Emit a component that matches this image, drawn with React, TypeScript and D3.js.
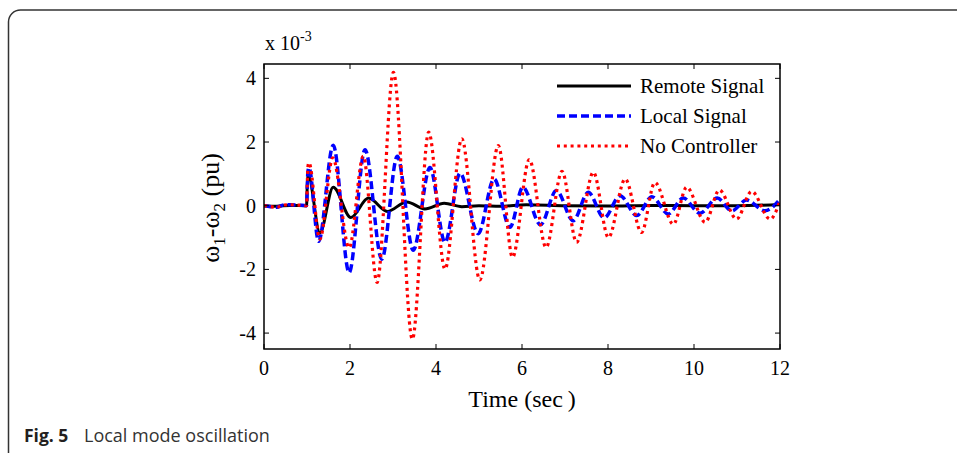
import React from "react";
import * as d3 from "d3";

const xTicks = [0, 2, 4, 6, 8, 10, 12];
const yTicks = [-4, -2, 0, 2, 4];

const remoteT = [0, 0.3, 0.6, 0.99, 1.005, 1.03, 1.3, 1.61, 2.02, 2.43, 2.87, 3.32, 3.74, 4.19, 4.6, 5.0, 5.5, 6.1, 7, 8, 9, 10, 11, 12];
const remoteV = [0, -0.02, 0.01, 0, 0.6, 0.95, -0.85, 0.58, -0.37, 0.24, -0.18, 0.12, -0.1, 0.08, -0.03, 0.0, -0.02, 0.03, 0.0, -0.01, 0.01, 0.0, 0.0, 0.04];

const localT = [0, 0.15, 0.3, 0.45, 0.6, 0.8, 0.99, 1.005, 1.02, 1.045, 1.27, 1.61, 1.98, 2.35, 2.74, 3.1, 3.47, 3.86, 4.21, 4.56, 4.98, 5.35, 5.72, 6.02, 6.43, 6.8, 7.19, 7.54, 7.91, 8.28, 8.67, 9.02, 9.4, 9.75, 10.14, 10.54, 10.88, 11.22, 11.65, 12];
const localV = [0, -0.03, -0.05, 0.02, 0.03, 0.02, 0, 0.5, 1.05, 1.2, -1.12, 1.9, -2.1, 1.76, -1.68, 1.55, -1.4, 1.2, -1.15, 1.02, -0.88, 0.84, -0.68, 0.58, -0.6, 0.48, -0.47, 0.42, -0.38, 0.31, -0.31, 0.28, -0.26, 0.24, -0.24, 0.24, -0.16, 0.18, -0.16, 0.2];

const noCtrlT = [0, 0.15, 0.3, 0.45, 0.6, 0.8, 0.99, 1.005, 1.02, 1.045, 1.3, 1.6, 1.98, 2.31, 2.63, 3.01, 3.45, 3.83, 4.21, 4.6, 5.02, 5.45, 5.78, 6.17, 6.56, 6.93, 7.27, 7.66, 8.01, 8.4, 8.78, 9.09, 9.52, 9.83, 10.26, 10.59, 10.99, 11.34, 11.77, 12];
const noCtrlV = [0, -0.03, -0.05, 0.02, 0.03, 0.02, 0, 0.6, 1.2, 1.35, -1.05, 1.5, -1.32, 1.55, -2.41, 4.19, -4.19, 2.31, -1.99, 2.1, -2.33, 1.89, -1.62, 1.45, -1.31, 1.08, -1.15, 1.05, -1.0, 0.84, -0.84, 0.73, -0.58, 0.58, -0.52, 0.49, -0.42, 0.45, -0.42, 0.15];

const seriesNames = ["Remote Signal", "Local Signal", "No Controller"];

const W = 957, H = 453;
const L = 264, R = 780, T = 64, B = 349;
const serif = "'Liberation Serif', 'Times New Roman', serif";

export default function App() {
  const x = d3.scaleLinear().domain([0, 12]).range([L, R]);
  const y = d3.scaleLinear().domain([-4.5, 4.45]).range([B, T]);
  const line = d3
    .line<[number, number]>()
    .x((d) => x(d[0]))
    .y((d) => y(d[1]))
    .curve(d3.curveMonotoneX);
  const zip = (ts: number[], vs: number[]) => ts.map((t, i) => [t, vs[i]] as [number, number]);

  const series = [
    { name: seriesNames[0], d: line(zip(remoteT, remoteV)), color: "#000", width: 3, dash: undefined as string | undefined },
    { name: seriesNames[1], d: line(zip(localT, localV)), color: "#0000ff", width: 3.5, dash: "8 4" },
    { name: seriesNames[2], d: line(zip(noCtrlT, noCtrlV)), color: "#ff0000", width: 3.2, dash: "3 3.8" },
  ];
  const legendY = [86, 116, 146];
  const tick = 5;

  return (
    <svg width={W} height={H} style={{ position: "absolute", left: 0, top: 0, background: "#fff" }}>
      <rect x={0} y={0} width={W} height={H} fill="#fff" />
      <path d={`M 8.5 ${H + 5} L 8.5 22 A 12 12 0 0 1 20.5 10 L ${W + 5} 10`} fill="none" stroke="#333" strokeWidth={1.5} />
      <defs>
        <clipPath id="plotclip">
          <rect x={L} y={T} width={R - L} height={B - T} />
        </clipPath>
      </defs>
      <g clipPath="url(#plotclip)">
        {series.map((s) => (
          <path key={s.name} d={s.d || ""} fill="none" stroke={s.color} strokeWidth={s.width} strokeDasharray={s.dash} strokeLinejoin="round" />
        ))}
      </g>
      <rect x={L} y={T} width={R - L} height={B - T} fill="none" stroke="#000" strokeWidth={1.5} />
      {xTicks.map((t) => (
        <g key={"x" + t}>
          <line x1={x(t)} x2={x(t)} y1={B} y2={B - tick} stroke="#000" strokeWidth={1} />
          <line x1={x(t)} x2={x(t)} y1={T} y2={T + tick} stroke="#000" strokeWidth={1} />
          <text x={x(t)} y={375} textAnchor="middle" fontFamily={serif} fontSize={20} fill="#000">{t}</text>
        </g>
      ))}
      {yTicks.map((v) => (
        <g key={"y" + v}>
          <line x1={L} x2={L + tick} y1={y(v)} y2={y(v)} stroke="#000" strokeWidth={1} />
          <line x1={R} x2={R - tick} y1={y(v)} y2={y(v)} stroke="#000" strokeWidth={1} />
          <text x={256} y={y(v) + 7} textAnchor="end" fontFamily={serif} fontSize={20} fill="#000">{v}</text>
        </g>
      ))}
      <text x={265} y={50} fontFamily={serif} fontSize={20} fill="#000">
        x 10<tspan dy={-9} fontSize={14}>-3</tspan>
      </text>
      <text x={522} y={407} textAnchor="middle" fontFamily={serif} fontSize={24} fill="#000">Time (sec{"\u2009"})</text>
      <text transform="translate(219,208) rotate(-90)" textAnchor="middle" fontFamily={serif} fontSize={26} fill="#000">
        ω<tspan dy={6} fontSize={17}>1</tspan><tspan dy={-6}>-ω</tspan><tspan dy={6} fontSize={17}>2</tspan><tspan dy={-6}> (pu)</tspan>
      </text>
      {series.map((s, i) => (
        <g key={"lg" + i}>
          <line x1={557} x2={631} y1={legendY[i]} y2={legendY[i]} stroke={s.color} strokeWidth={s.width} strokeDasharray={s.dash} />
          <text x={640} y={legendY[i] + 7} fontFamily={serif} fontSize={21} fill="#000">{s.name}</text>
        </g>
      ))}
      <text x={24} y={442} fontFamily="'Open Sans', 'Noto Sans', sans-serif" fill="#231f20">
        <tspan fontWeight="bold" fontSize={17.5}>Fig. 5</tspan>
        <tspan x={84} fontSize={18} fill="#333">Local mode oscillation</tspan>
      </text>
    </svg>
  );
}
